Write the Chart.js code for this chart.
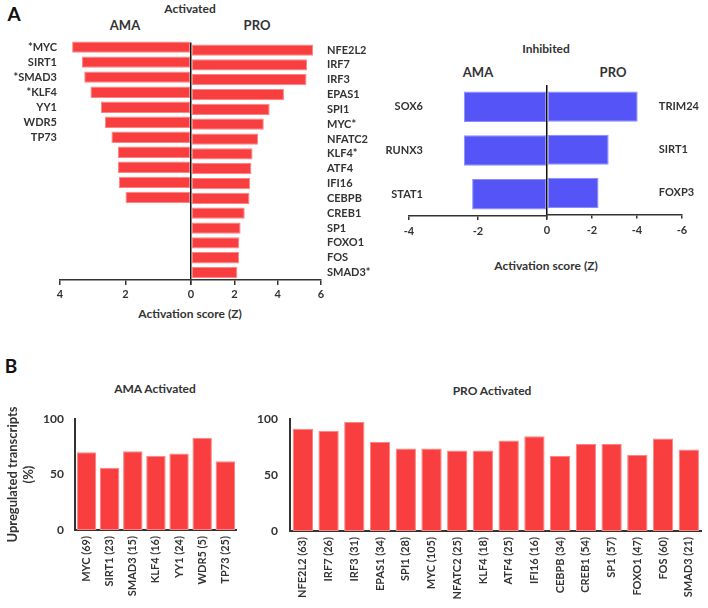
<!DOCTYPE html>
<html>
<head>
<meta charset="utf-8">
<script src="https://cdn.jsdelivr.net/npm/chart.js@4.4.1/dist/chart.umd.min.js"></script>
<style>
  body { margin: 0; width: 708px; height: 608px; position: relative; background: #fff; overflow: hidden; font-family: Lato, sans-serif; color: #333; }
  canvas { position: absolute; }
  .t { position: absolute; font-weight: bold; white-space: nowrap; transform: translate(-50%, -50%); }
</style>
</head>
<body>
<div class="t" style="left:14px;top:13px;font-size:19px;color:#111">A</div>
<div class="t" style="left:190px;top:8px;font-size:12px">Activated</div>
<div class="t" style="left:125px;top:25px;font-size:13px">AMA</div>
<div class="t" style="left:257px;top:25px;font-size:13px">PRO</div>
<div class="t" style="left:190px;top:313px;font-size:12px">Activation score (Z)</div>

<div class="t" style="left:546px;top:48px;font-size:12px">Inhibited</div>
<div class="t" style="left:478px;top:72px;font-size:13px">AMA</div>
<div class="t" style="left:613px;top:72px;font-size:13px">PRO</div>
<div class="t" style="left:546px;top:265px;font-size:12px">Activation score (Z)</div>

<div class="t" style="left:11px;top:365px;font-size:19px;color:#111">B</div>
<div class="t" style="left:155px;top:388px;font-size:12px">AMA Activated</div>
<div class="t" style="left:492px;top:390px;font-size:12px">PRO Activated</div>

<canvas id="actLeft" width="200" height="272" style="left:0px;top:30px"></canvas>
<canvas id="actRight" width="250" height="272" style="left:170px;top:30px"></canvas>
<canvas id="inhLeft" width="187" height="158" style="left:370px;top:80px"></canvas>
<canvas id="inhRight" width="178" height="158" style="left:530px;top:80px"></canvas>
<canvas id="amaBars" width="245" height="208" style="left:0px;top:400px"></canvas>
<canvas id="proBars" width="478" height="208" style="left:230px;top:400px"></canvas>

<script>
// Panel A - activated upstream regulators (Z score)
const amaActLabels = ["*MYC", "SIRT1", "*SMAD3", "*KLF4", "YY1", "WDR5", "TP73"];
const amaActZ = [3.63, 3.33, 3.26, 3.07, 2.75, 2.63, 2.43, 2.23, 2.23, 2.20, 2.00];
const proActLabels = ["NFE2L2", "IRF7", "IRF3", "EPAS1", "SPI1", "MYC*", "NFATC2", "KLF4*",
  "ATF4", "IFI16", "CEBPB", "CREB1", "SP1", "FOXO1", "FOS", "SMAD3*"];
const proActZ = [5.63, 5.36, 5.33, 4.29, 3.63, 3.36, 3.10, 2.84, 2.79, 2.73, 2.70, 2.48, 2.29, 2.23, 2.22, 2.14];

// Panel A - inhibited
const amaInhLabels = ["SOX6", "RUNX3", "STAT1"];
const amaInhZ = [-2.41, -2.41, -2.17];
const proInhLabels = ["TRIM24", "SIRT1", "FOXP3"];
const proInhZ = [-4.03, -2.74, -2.29];

// Panel B - % upregulated transcripts
const amaTfLabels = ["MYC (69)", "SIRT1 (23)", "SMAD3 (15)", "KLF4 (16)", "YY1 (24)", "WDR5 (5)", "TP73 (25)"];
const amaUp = [70, 56, 71, 67, 69, 83, 62];
const proTfLabels = ["NFE2L2 (63)", "IRF7 (26)", "IRF3 (31)", "EPAS1 (34)", "SPI1 (28)", "MYC (105)",
  "NFATC2 (25)", "KLF4 (18)", "ATF4 (25)", "IFI16 (16)", "CEBPB (34)", "CREB1 (54)", "SP1 (57)",
  "FOXO1 (47)", "FOS (60)", "SMAD3 (21)"];
const proUp = [91.5, 89.7, 97.4, 79.7, 73.9, 73.9, 72.1, 72.1, 80.9, 84.7, 67.1, 77.9, 77.9, 68, 82.7, 73];

const RED = "#f83e3e", RED_EDGE = "#fb8585";
const BLUE = "#5555f7", BLUE_EDGE = "#8c8cff";
const TXT = "#333";
const lbl = size => ({ family: "Lato", weight: "bold", size: size });

// widest label, so labels drawn inside the plot can be right/left aligned where the figure has them
function widest(list) {
  const c = document.createElement("canvas").getContext("2d");
  c.font = "bold 11px Lato";
  return Math.max(...list.map(t => c.measureText(t).width));
}

function zChart(id, o) {
  return new Chart(document.getElementById(id), {
    type: "bar",
    data: {
      labels: o.labels,
      datasets: [{
        data: o.values,
        backgroundColor: o.color,
        borderColor: o.edge,
        borderWidth: 1,
        borderSkipped: false,
        barPercentage: o.barPct,
        categoryPercentage: 1
      }]
    },
    options: {
      indexAxis: "y",
      responsive: false,
      animation: false,
      layout: { padding: o.padding },
      plugins: { legend: { display: false }, tooltip: { enabled: false } },
      scales: {
        x: {
          min: o.min, max: o.max, reverse: !!o.reverse,
          ticks: {
            stepSize: 2, color: TXT, font: lbl(11), padding: o.tickPad,
            callback: v => (o.hideZero && v === 0) ? "" : String(v)
          },
          grid: {
            drawOnChartArea: !!o.zeroLine,
            color: c => (c.tick && c.tick.value === 0) ? "#111" : "rgba(0,0,0,0)",
            lineWidth: 1.5, tickColor: "#333", tickLength: o.tickLen, tickWidth: 1.5
          },
          border: { display: true, color: "#333", width: 1.5 },
          afterFit: s => { s.height = 22; }
        },
        y: {
          position: o.yPos,
          grid: { display: false, drawTicks: false },
          border: { display: false },
          ticks: {
            color: TXT, font: lbl(11), padding: o.labelPad, autoSkip: false,
            mirror: !!o.mirror, crossAlign: o.mirror ? "far" : "near"
          },
          afterFit: s => { s.width = o.yWidth; }
        }
      }
    }
  });
}

zChart("actLeft", {
  labels: proActLabels.map((_, i) => amaActLabels[i] || ""),
  values: amaActZ, color: RED, edge: RED_EDGE, barPct: 0.76,
  min: 0, max: 4, reverse: true, hideZero: true, zeroLine: false,
  yPos: "left", yWidth: 60, labelPad: 3, tickPad: 3, tickLen: 5,
  padding: { top: 5, right: 9, left: 0, bottom: 0 }
});
zChart("actRight", {
  labels: proActLabels, values: proActZ, color: RED, edge: RED_EDGE, barPct: 0.76,
  min: 0, max: 6, zeroLine: true,
  yPos: "right", yWidth: 99, labelPad: 6, tickPad: 3, tickLen: 5,
  padding: { top: 5, right: 0, left: 21, bottom: 0 }
});
zChart("inhLeft", {
  labels: amaInhLabels, values: amaInhZ, color: BLUE, edge: BLUE_EDGE, barPct: 0.7,
  min: -4, max: 0, hideZero: true, zeroLine: false,
  yPos: "left", yWidth: 39, mirror: true, labelPad: 14 - widest(amaInhLabels), tickPad: 5, tickLen: 4,
  padding: { top: 5, right: 10, left: 0, bottom: 0 }
});

// the tick padding also pads the axis ends, so the canvas is raised by that much
const inhRightPad = 57 - widest(proInhLabels);
const inhRightTop = Math.max(5, Math.ceil(6.6 + inhRightPad));
const inhRightCanvas = document.getElementById("inhRight");
inhRightCanvas.height = inhRightTop + 131 + 22;
inhRightCanvas.style.top = (85 - inhRightTop) + "px";
zChart("inhRight", {
  labels: proInhLabels, values: proInhZ, color: BLUE, edge: BLUE_EDGE, barPct: 0.7,
  min: -6, max: 0, reverse: true, zeroLine: true,
  yPos: "right", yWidth: 26, mirror: true, labelPad: inhRightPad, tickPad: 5, tickLen: 4,
  padding: { top: inhRightTop, right: 0, left: 17, bottom: 0 }
});

function upChart(id, o) {
  return new Chart(document.getElementById(id), {
    type: "bar",
    data: {
      labels: o.labels,
      datasets: [{
        data: o.values,
        backgroundColor: RED,
        borderColor: RED_EDGE,
        borderWidth: 1,
        borderSkipped: false,
        barPercentage: o.barPct,
        categoryPercentage: 1
      }]
    },
    options: {
      responsive: false,
      animation: false,
      layout: { padding: o.padding },
      plugins: { legend: { display: false }, tooltip: { enabled: false } },
      scales: {
        x: {
          grid: { display: false, drawTicks: false },
          border: { display: true, color: "#333", width: 2 },
          ticks: { color: TXT, font: lbl(11), minRotation: 90, maxRotation: 90, padding: 6, autoSkip: false },
          afterFit: s => { s.height = o.xHeight; }
        },
        y: {
          min: 0, max: 100,
          grid: { display: false, drawTicks: false },
          border: { display: true, color: "#333", width: 2 },
          ticks: { stepSize: 50, color: TXT, font: lbl(12), padding: o.yPad },
          title: o.yTitle ? {
            display: true, text: ["Upregulated transcripts", "(%)"],
            color: TXT, font: lbl(13), padding: { top: 5, bottom: 0 }
          } : { display: false },
          afterFit: s => { s.width = o.yWidth; }
        }
      }
    }
  });
}

upChart("amaBars", {
  labels: amaTfLabels, values: amaUp, barPct: 0.84,
  yWidth: 75, yPad: 11, xHeight: 78, yTitle: true,
  padding: { top: 19, right: 7, left: 0, bottom: 0 }
});
upChart("proBars", {
  labels: proTfLabels, values: proUp, barPct: 0.79,
  yWidth: 60, yPad: 12, xHeight: 77, yTitle: false,
  padding: { top: 18, right: 0, left: 0, bottom: 0 }
});
</script>
</body>
</html>
